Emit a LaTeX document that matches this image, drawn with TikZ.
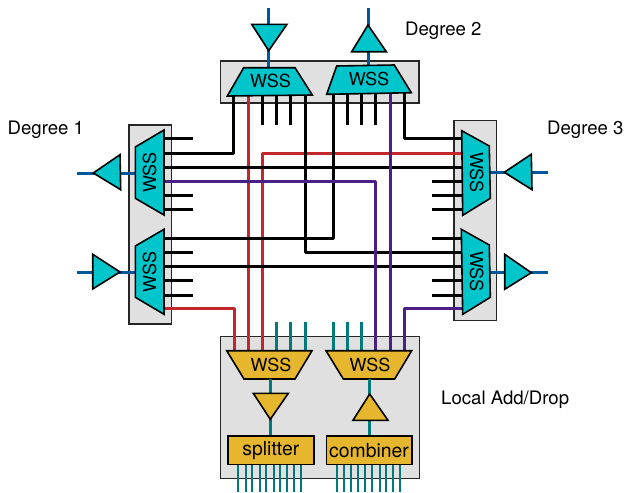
\documentclass[tikz,border=0pt]{standalone}
\usepackage{fontspec}
\setmainfont{TeX Gyre Heros}
\definecolor{cyn}{HTML}{00C6CB}
\definecolor{blu}{HTML}{00589C}
\definecolor{gld}{HTML}{E6B62F}
\definecolor{tel}{HTML}{007A7A}
\definecolor{rd}{HTML}{C1272D}
\definecolor{prp}{HTML}{4A2086}
\definecolor{pnl}{HTML}{E0E0E0}
\tikzset{
  panel/.style={draw=black!85,fill=pnl,line width=1.4pt},
  amp/.style={draw=black,line width=1.6pt,line join=miter},
  cyanshape/.style={amp,fill=cyn},
  goldshape/.style={amp,fill=gld},
  blackwire/.style={draw=black,line width=3pt,line join=round},
  redwire/.style={draw=rd,line width=3pt,line join=round},
  purplewire/.style={draw=prp,line width=3pt,line join=round},
  bluewire/.style={draw=blu,line width=3pt},
  tealwire/.style={draw=tel,line width=3pt},
  thintealwire/.style={draw=tel,line width=2pt},
  lbl/.style={inner sep=0pt,font=\fontsize{18.6}{22}\selectfont},
  wsslbl/.style={inner sep=0pt,font=\fontsize{18}{22}\selectfont},
  boxlbl/.style={inner sep=0pt,font=\fontsize{19.4}{22}\selectfont}
}
\begin{document}
\begin{tikzpicture}[x=1pt,y=-1pt]
\useasboundingbox (0,0) rectangle (625,493);
% panels
\draw[panel] (220.7,61) rectangle (419,103);
\draw[panel] (129,125) rectangle (171.7,324);
\draw[panel] (454,120.7) rectangle (496.7,320.7);
\draw[panel] (220.3,336.7) rectangle (419.7,478.7);
% named ports
\foreach \n/\x in {a/233.7,b/248,c/262,d/276.3,e/290.7,f/305}{
  \coordinate (T1\n) at (\x,96);
  \coordinate (T1\n s) at (\x,125);}
\foreach \n/\x in {a/333.3,b/347.3,c/361.7,d/375.7,e/390,f/404}{
  \coordinate (T2\n) at (\x,93);
  \coordinate (T2\n s) at (\x,125);}
\foreach \n/\y in {a/138.7,b/153.3,c/167.3,d/181.5,e/195.7,f/209.7,g/238,h/252.3,i/266.5,j/280.8,k/295,l/308.7}{
  \coordinate (L\n) at (164,\y);
  \coordinate (L\n s) at (193.3,\y);
  \coordinate (R\n) at (464,\y);
  \coordinate (R\n s) at (432.3,\y);}
\foreach \n/\x in {a/234,b/248,c/262.3,d/276.3,e/290.7,f/305}{
  \coordinate (B1\n) at (\x,351);
  \coordinate (B1\n s) at (\x,321.7);}
\foreach \n/\x in {a/333.3,b/347.3,c/361.7,d/375.7,e/390,f/404.3}{
  \coordinate (B2\n) at (\x,351);
  \coordinate (B2\n s) at (\x,321.7);}
% short black stubs
\foreach \p in {T1c,T1d,T1e,T2b,T2c,T2d}{\draw[blackwire] (\p) -- (\p s);}
\foreach \p in {La,Le,Lf,Lh,Lj,Lk,Re,Rf,Rg,Rj,Rk,Rd}{\draw[blackwire] (\p) -- (\p s);}
% red
\draw[redwire] (T1b) -- (B1b);
\draw[redwire] (Ll) -| (B1a);
\draw[redwire] (B1c) |- (Rb);
% black long
\draw[blackwire] (Lb) -| (T1a);
\draw[blackwire] (Lc) -- (Rc);
\draw[blackwire] (Lg) -| (T2a);
\draw[blackwire] (T1f) |- (Rh);
\draw[blackwire] (Li) -- (Ri);
\draw[blackwire] (T2f) |- (Ra);
% purple
\draw[purplewire] (T2e) -- (B2e);
\draw[purplewire] (Ld) -| (B2d);
\draw[purplewire] (B2f) |- (Rl);
% teal stubs
\foreach \p in {B1d,B1e,B1f,B2a,B2b,B2c}{\draw[tealwire] (\p) -- (\p s);}
% blue connectors
\coordinate (tb1) at (268.7,8); \coordinate (tb1e) at (268.7,68);
\coordinate (tb2) at (368,8); \coordinate (tb2e) at (368,66);
\draw[bluewire] (tb1) -- (tb1e);
\draw[bluewire] (tb2) -- (tb2e);
\coordinate (lb1) at (77.3,173.5); \coordinate (lb1e) at (136,173.5);
\coordinate (lb2) at (77.3,272.7); \coordinate (lb2e) at (136,272.7);
\coordinate (rb1) at (490,172.5); \coordinate (rb1e) at (547.7,172.5);
\coordinate (rb2) at (490,272.7); \coordinate (rb2e) at (547.7,272.7);
\draw[bluewire] (lb1) -- (lb1e);
\draw[bluewire] (lb2) -- (lb2e);
\draw[bluewire] (rb1) -- (rb1e);
\draw[bluewire] (rb2) -- (rb2e);
% amplifiers
\draw[cyanshape] (251.7,24.3) -- (287,24.3) -- (268.7,50.7) -- cycle;
\draw[cyanshape] (368,25) -- (386.3,51.7) -- (351.7,51.7) -- cycle;
\draw[cyanshape] (93.3,173) -- (120,154.7) -- (120.7,189.7) -- cycle;
\draw[cyanshape] (92.7,254.3) -- (120,272) -- (92.7,289) -- cycle;
\draw[cyanshape] (504.3,172.3) -- (531.3,154.3) -- (532,189.7) -- cycle;
\draw[cyanshape] (504.7,254.3) -- (531.3,272.7) -- (504.7,289.3) -- cycle;
% WSS blocks
\draw[cyanshape] (243.7,67.7) -- (295,67.7) -- (312.3,95) -- (227.3,96) -- cycle;
\draw[cyanshape] (336.7,66) -- (394.3,65) -- (411.3,92.7) -- (326.7,94.3) -- cycle;
\draw[cyanshape] (164,130) -- (135.3,147) -- (135.3,198.3) -- (164,215) -- cycle;
\draw[cyanshape] (164,229.3) -- (135.3,246) -- (135.3,297.3) -- (164,314.3) -- cycle;
\draw[cyanshape] (461.7,130.7) -- (489.3,146) -- (490.3,198.3) -- (462.7,215.3) -- cycle;
\draw[cyanshape] (461.3,229.3) -- (489.3,245) -- (490.3,297.3) -- (462.7,314.3) -- cycle;
\draw[goldshape] (226.7,350.7) -- (312,350.7) -- (295,379) -- (244,379) -- cycle;
\draw[goldshape] (326,350.7) -- (411.7,350.7) -- (394.7,379) -- (343.3,379) -- cycle;
\node[wsslbl] (wt1) at (270.5,80.5) {WSS};
\node[wsslbl,rotate=-1] (wt2) at (369,79) {WSS};
\node[wsslbl,rotate=90] (wl1) at (149.5,172.5) {WSS};
\node[wsslbl,rotate=90] (wl2) at (149.5,272) {WSS};
\node[wsslbl,rotate=-90] (wr1) at (476.7,172.3) {WSS};
\node[wsslbl,rotate=-90] (wr2) at (476.7,271.5) {WSS};
\node[wsslbl] (wb1) at (271,364.5) {WSS};
\node[wsslbl] (wb2) at (370,364.5) {WSS};
% local add/drop
\node[goldshape,boxlbl,minimum width=85.7pt,minimum height=28.3pt] (split) at (270.85,450.15) {splitter};
\node[goldshape,boxlbl,minimum width=85.4pt,minimum height=28.3pt] (comb) at (369,450.15) {combiner};
\coordinate (g1) at (270.3,379);
\coordinate (g2) at (369.7,379);
\draw[tealwire] (g1) -- (split.north -| g1);
\draw[tealwire] (g2) -- (comb.north -| g2);
\draw[goldshape] (253.3,393.3) -- (288.3,393.3) -- (270.3,419.3) -- cycle;
\draw[goldshape] (369.7,394) -- (388,420.3) -- (353,420.3) -- cycle;
\foreach \x in {238,245.7,252,259.7,266,274,280.3,286.7,294.3,301}{
  \coordinate (sl) at (\x,491.7);
  \draw[thintealwire] (split.south -| sl) -- (sl);}
\foreach \x in {337,343.7,351.3,357.7,364.7,372.3,380,385.7,392.7,400.3}{
  \coordinate (cl) at (\x,491.7);
  \draw[thintealwire] (comb.south -| cl) -- (cl);}
% labels
\node[lbl,anchor=base west] (d2) at (405,35) {Degree 2};
\node[lbl,anchor=base west] (d1) at (7.5,134) {Degree 1};
\node[lbl,anchor=base west] (d3) at (547,134) {Degree 3};
\node[lbl,anchor=base west] (ld) at (441,404) {Local Add/Drop};
\end{tikzpicture}
\end{document}
